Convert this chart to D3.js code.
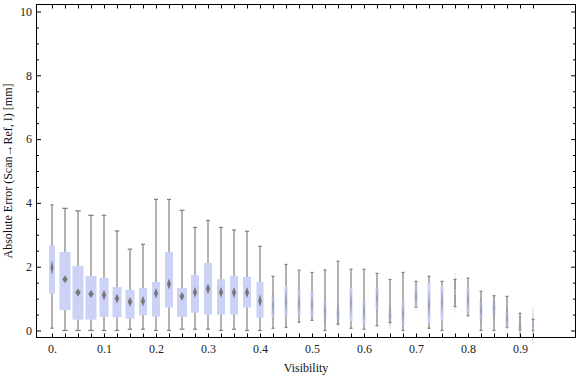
<!DOCTYPE html>
<html>
<head>
<meta charset="utf-8">
<script src="https://d3js.org/d3.v7.min.js"></script>
<style>
  body { margin: 0; background: #fff; }
  text { font-family: "Liberation Serif", "DejaVu Serif", serif; }
</style>
</head>
<body>
<div id="grafiekContainer"></div>
<script>

// data: per zichtbaarheid de vijf kenmerken van de box
var zichtbaarheid = [0, 0.025, 0.05, 0.075, 0.1, 0.125, 0.15, 0.175, 0.2, 0.225,
                     0.25, 0.275, 0.3, 0.325, 0.35, 0.375, 0.4, 0.425, 0.45, 0.475,
                     0.5, 0.525, 0.55, 0.575, 0.6, 0.625, 0.65, 0.675, 0.7, 0.725,
                     0.75, 0.775, 0.8, 0.825, 0.85, 0.875, 0.9, 0.925];
var maximum = [3.94, 3.83, 3.75, 3.61, 3.61, 3.12, 2.55, 2.70, 4.11, 4.11,
               3.77, 3.23, 3.45, 3.23, 3.15, 3.11, 2.64, 1.70, 2.07, 1.89,
               1.82, 1.90, 2.17, 1.92, 1.92, 1.79, 1.60, 1.82, 1.54, 1.70,
               1.54, 1.60, 1.64, 1.23, 1.09, 1.07, 0.54, 0.35];
var kwartiel3 = [2.67, 2.46, 2.02, 1.71, 1.65, 1.36, 1.27, 1.33, 1.52, 2.46,
                 1.33, 1.74, 2.12, 1.61, 1.71, 1.68, 1.52, 1.05, 1.39, 1.24,
                 1.21, 0.93, 0.64, 1.32, 0.96, 1.35, 0.61, 0.90, 1.37, 1.49,
                 1.40, 1.29, 1.35, 0.89, 0.89, 0.58, 0.19, 0.29];
var mediaan = [1.97, 1.61, 1.19, 1.14, 1.11, 1.00, 0.90, 0.92, 1.17, 1.46,
               1.07, 1.20, 1.31, 1.20, 1.19, 1.19, 0.93, 0.78, 0.90, 0.85,
               0.80, 0.60, 0.50, 0.85, 0.60, 1.00, 0.45, 0.50, 1.05, 0.80,
               0.90, 1.20, 0.96, 0.64, 0.70, 0.38, 0.10, 0.15];
var kwartiel1 = [1.15, 0.64, 0.34, 0.34, 0.43, 0.41, 0.37, 0.48, 0.43, 0.72,
                 0.43, 0.56, 0.50, 0.50, 0.50, 0.72, 0.40, 0.40, 0.48, 0.48,
                 0.44, 0.37, 0.33, 0.30, 0.21, 0.67, 0.30, 0.17, 0.73, 0.25,
                 0.31, 1.11, 0.56, 0.37, 0.50, 0.10, 0.02, 0.00];
var minimum = [0.07, 0.00, 0.00, 0.00, 0.00, 0.00, 0.04, 0.04, 0.00, 0.00,
               0.04, 0.04, 0.04, 0.00, 0.04, 0.00, 0.00, 0.07, 0.10, 0.26,
               0.32, 0.00, 0.20, 0.07, 0.04, 0.15, 0.25, 0.00, 0.73, 0.07,
               0.00, 0.75, 0.46, 0.00, 0.00, 0.10, 0.02, 0.00];
// relatief gewicht (aantal metingen) bepaalt de breedte van de box
var gewicht = [0.55, 1, 1, 1, 0.82, 0.82, 0.82, 0.73, 0.73, 0.73,
               0.91, 0.73, 0.73, 0.73, 0.73, 0.73, 0.64, 0.27, 0.27, 0.27,
               0.27, 0.27, 0.27, 0.27, 0.27, 0.27, 0.27, 0.27, 0.27, 0.27,
               0.27, 0.18, 0.27, 0.27, 0.27, 0.27, 0.27, 0.18];

var xLabels = [0, 0.1, 0.2, 0.3, 0.4, 0.5, 0.6, 0.7, 0.8, 0.9];
var yLabels = [0, 2, 4, 6, 8, 10];
var yKleineTicks = [0.5, 1, 1.5, 2.5, 3, 3.5, 4.5, 5, 5.5, 6.5, 7, 7.5, 8.5, 9, 9.5];

var breedte = 576;
var hoogte = 377;

// marges vast leggen
var marge = {boven: 4.5, beneden: 39.5, rechts: 0.5, links: 36.5};
var grafiekHoogte = hoogte - marge.boven - marge.beneden;
var grafiekBreedte = breedte - marge.rechts - marge.links;

// maak een SVG element
var svg = d3.select("#grafiekContainer")
            .append("svg")
            .attr("height", hoogte)
            .attr("width", breedte);

// schaalfuncties
var x = d3.scaleLinear()
          .domain([-0.0298, 1.0067])
          .range([marge.links, marge.links + grafiekBreedte]);

var y = d3.scaleLinear()
          .domain([-0.22, 10.22])
          .range([marge.boven + grafiekHoogte, marge.boven]);

var boxBreedte = d3.scaleLinear()
                   .domain([0, 1])
                   .range([0, 11]);

// zet de losse arrays om in rijen
var rijen = zichtbaarheid.map(function(v, i) {
  return {v: v, max: maximum[i], q3: kwartiel3[i], med: mediaan[i],
          q1: kwartiel1[i], min: minimum[i], w: boxBreedte(gewicht[i])};
});

// whiskers
var groep = svg.append("g").attr("class", "boxen");

groep.selectAll(".whisker")
     .data(rijen)
     .enter()
     .append("line")
     .attr("class", "whisker")
     .attr("x1", function(d) { return x(d.v); })
     .attr("x2", function(d) { return x(d.v); })
     .attr("y1", function(d) { return y(d.max); })
     .attr("y2", function(d) { return y(d.min); })
     .attr("stroke", "#7f7f7f")
     .attr("stroke-width", 1.2);

// kapjes boven en onder
["max", "min"].forEach(function(sleutel) {
  groep.selectAll(".kap-" + sleutel)
       .data(rijen)
       .enter()
       .append("line")
       .attr("class", "kap-" + sleutel)
       .attr("x1", function(d) { return x(d.v) - Math.max(d.w * 0.25, 1.5); })
       .attr("x2", function(d) { return x(d.v) + Math.max(d.w * 0.25, 1.5); })
       .attr("y1", function(d) { return y(d[sleutel]); })
       .attr("y2", function(d) { return y(d[sleutel]); })
       .attr("stroke", "#7f7f7f")
       .attr("stroke-width", 1.2);
});

// de boxen zelf
groep.selectAll(".box")
     .data(rijen)
     .enter()
     .append("rect")
     .attr("class", "box")
     .attr("x", function(d) { return x(d.v) - d.w / 2; })
     .attr("width", function(d) { return d.w; })
     .attr("y", function(d) { return y(d.q3); })
     .attr("height", function(d) { return y(d.q1) - y(d.q3); })
     .attr("fill", "#cbd2f5");

// ruit voor de mediaan
groep.selectAll(".ruit")
     .data(rijen)
     .enter()
     .append("path")
     .attr("class", "ruit")
     .attr("d", function(d) {
       var cx = x(d.v), cy = y(d.med);
       var dw = d.w * 0.25;
       var dh = 22 / (d.w * 0.5);
       return "M" + cx + "," + (cy - dh) + "L" + (cx + dw) + "," + cy +
              "L" + cx + "," + (cy + dh) + "L" + (cx - dw) + "," + cy + "Z"; })
     .attr("fill", "#777777")
     .attr("fill-opacity", function(d) { return d.w < 5 ? 0.75 : 1; });

// ticks onder en boven
svg.append("g")
   .attr("transform", "translate(0," + (marge.boven + grafiekHoogte) + ")")
   .call(d3.axisBottom(x).tickValues(zichtbaarheid).tickSizeInner(-4)
           .tickSizeOuter(0).tickFormat(""))
   .call(function(g) { g.select(".domain").remove(); });

svg.append("g")
   .attr("transform", "translate(0," + marge.boven + ")")
   .call(d3.axisTop(x).tickValues(zichtbaarheid).tickSizeInner(-4)
           .tickSizeOuter(0).tickFormat(""))
   .call(function(g) { g.select(".domain").remove(); });

// labels op de x-as
svg.append("g")
   .attr("class", "xAs")
   .attr("transform", "translate(0," + (marge.boven + grafiekHoogte) + ")")
   .call(d3.axisBottom(x).tickValues(xLabels).tickSize(0).tickPadding(7)
           .tickFormat(function(d) { return d === 0 ? "0." : d3.format(".1f")(d); }))
   .call(function(g) { g.select(".domain").remove(); });

// ticks links en rechts
[[d3.axisLeft, marge.links], [d3.axisRight, marge.links + grafiekBreedte]].forEach(function(as) {
  svg.append("g")
     .attr("transform", "translate(" + as[1] + ",0)")
     .call(as[0](y).tickValues(yLabels).tickSizeInner(-4.5).tickSizeOuter(0).tickFormat(""))
     .call(function(g) { g.select(".domain").remove(); });
  svg.append("g")
     .attr("transform", "translate(" + as[1] + ",0)")
     .call(as[0](y).tickValues(yKleineTicks).tickSizeInner(-2.5).tickSizeOuter(0).tickFormat(""))
     .call(function(g) { g.select(".domain").remove(); });
});

// labels op de y-as
svg.append("g")
   .attr("class", "yAs")
   .attr("transform", "translate(" + marge.links + ",0)")
   .call(d3.axisLeft(y).tickValues(yLabels).tickSize(0).tickPadding(4.5))
   .call(function(g) { g.select(".domain").remove(); });

svg.selectAll(".xAs text, .yAs text")
   .attr("font-family", "Liberation Serif, serif")
   .attr("font-size", "12px")
   .attr("fill", "#222");

svg.selectAll(".tick line")
   .attr("stroke", "#000")
   .attr("stroke-width", 1);

// kader
svg.append("rect")
   .attr("x", marge.links)
   .attr("y", marge.boven)
   .attr("width", grafiekBreedte)
   .attr("height", grafiekHoogte)
   .attr("fill", "none")
   .attr("stroke", "#000")
   .attr("stroke-width", 1);

// titels van de assen
svg.append("text")
   .attr("x", marge.links + grafiekBreedte / 2)
   .attr("y", 372)
   .attr("text-anchor", "middle")
   .attr("font-size", "12px")
   .attr("fill", "#111")
   .text("Visibility");

svg.append("text")
   .attr("transform", "rotate(-90)")
   .attr("x", -(marge.boven + grafiekHoogte / 2))
   .attr("y", 12)
   .attr("text-anchor", "middle")
   .attr("font-size", "12px")
   .attr("fill", "#111")
   .text("Absolute Error (Scan\u2192Ref, I) [mm]");

</script>
</body>
</html>
